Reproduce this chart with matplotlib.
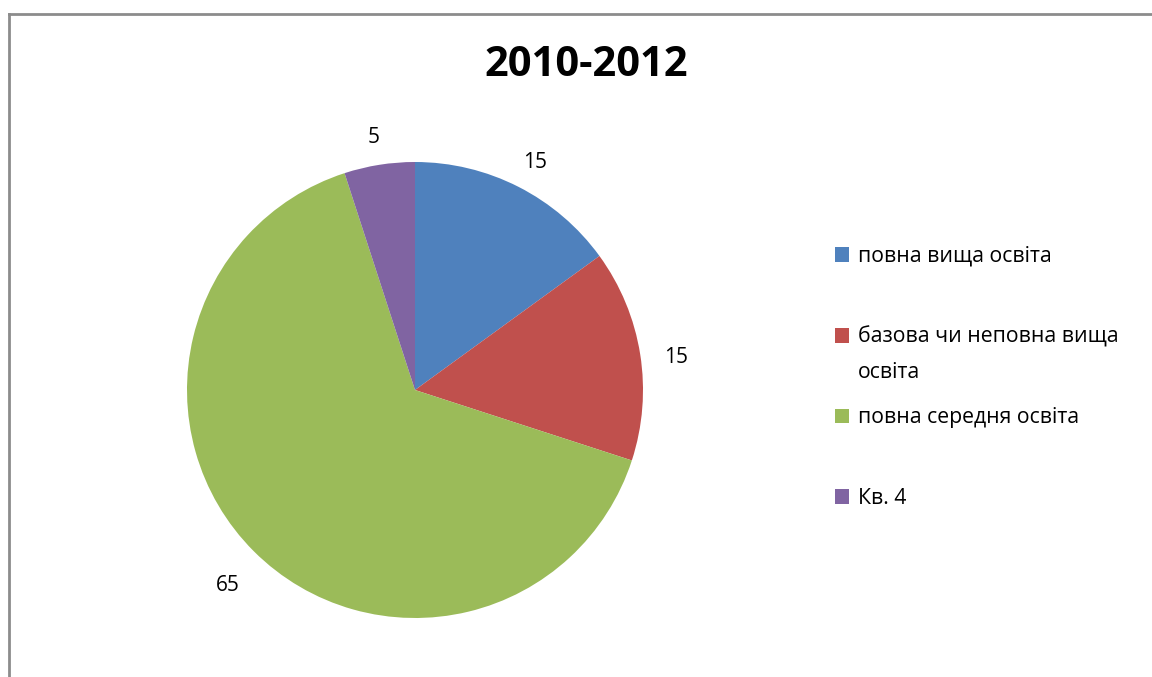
import matplotlib.pyplot as plt
from matplotlib.patches import Patch
from matplotlib.lines import Line2D
from matplotlib.transforms import ScaledTranslation

plt.rcParams['font.family'] = ['Open Sans', 'DejaVu Sans']

# ===================================

title = "2010-2012"
categories = ["повна вища освіта", "базова чи неповна вища",
              "повна середня освіта", "Кв. 4"]
wrapped_tail = {1: "освіта"}   # second line of the wrapped legend label
values = [15, 15, 65, 5]
colors = ['#4F81BD', '#C0504D', '#9BBB59', '#8064A2']

fig = plt.figure(figsize=(11.52, 6.77), dpi=100)

# outer chart frame (top and left only visible)
fig.add_artist(Line2D([9/1152, 9/1152], [0, 1 - 14/677], color='#8c8c8c', linewidth=2))
fig.add_artist(Line2D([9/1152, 1], [1 - 14/677, 1 - 14/677], color='#8c8c8c', linewidth=2))

ax = fig.add_axes([187/1152, 59/677, 456/1152, 456/677])
wedges, texts = ax.pie(values, labels=[str(v) for v in values], colors=colors,
                       startangle=90, counterclock=False, labeldistance=1.16,
                       textprops={'fontsize': 15, 'color': '#000000'},
                       wedgeprops={'linewidth': 0})
nudge = ScaledTranslation(0, -0.06, fig.dpi_scale_trans)
for t in texts:
    t.set_ha('center')
    t.set_va('center_baseline')
    t.set_clip_on(False)
    t.set_transform(t.get_transform() + nudge)
ax.set_xlim(-1, 1)
ax.set_ylim(-1, 1)
ax.set_aspect('equal')

fig.text(586/1152, 1 - 66/677, title, ha='center', va='center', fontsize=30, fontweight='bold')

handles = [Patch(facecolor=c, edgecolor='none') for c in colors]
leg = fig.legend(handles, categories, loc='upper left', bbox_to_anchor=(835/1152, 1 - 246/677),
                 frameon=False, fontsize=15.3, handlelength=0.68, handleheight=0.68,
                 handletextpad=0.4, labelspacing=2.8, borderaxespad=0, borderpad=0)

# add the wrapped second line under its legend label
fig.canvas.draw()
inv = fig.transFigure.inverted()
for i, tail in wrapped_tail.items():
    lt = leg.get_texts()[i]
    bb = lt.get_window_extent()
    (fx, fy), = inv.transform([(bb.x0, bb.y0 - 35)])
    fig.text(fx, fy, tail, ha='left', va='bottom', fontsize=15.3)

plt.savefig("out.png", dpi=100)
